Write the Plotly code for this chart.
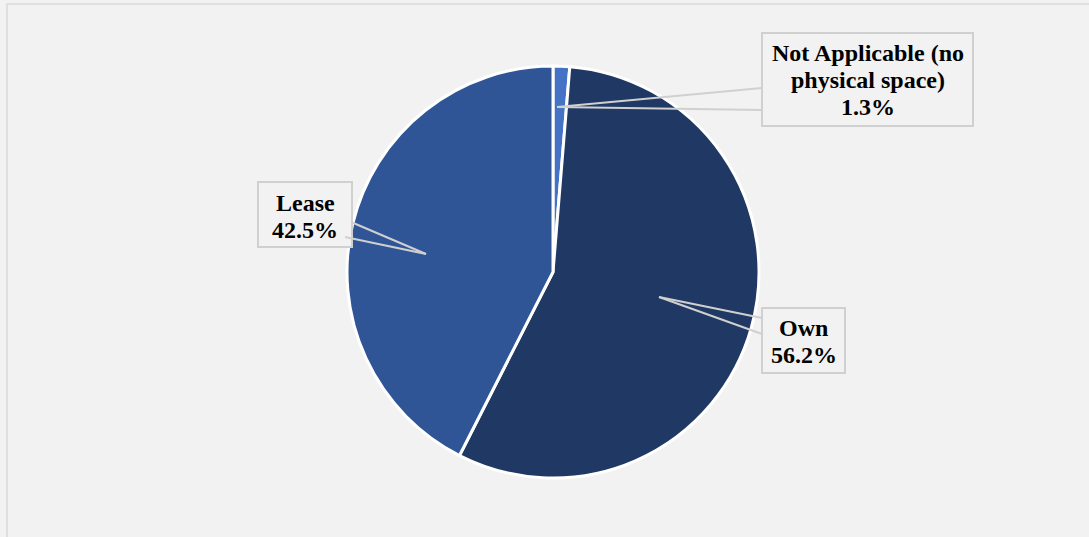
import plotly.graph_objects as go

label_lines = [["Not Applicable (no", "physical space)"], ["Own"], ["Lease"]]
values = [1.3, 56.2, 42.5]
colors = ["#4472C4", "#1F3864", "#2F5597"]
labels = [" ".join(l) for l in label_lines]

W, H = 1089, 537

def px(x, y):
    return x / W, 1 - y / H

cx, cy, r = 553, 272, 206
x0, y1 = px(cx - r, cy - r)
x1, y0 = px(cx + r, cy + r)

fig = go.Figure(go.Pie(
    labels=labels, values=values, sort=False, direction="clockwise", rotation=0,
    marker=dict(colors=colors, line=dict(color="white", width=3)),
    textinfo="none", hoverinfo="label+percent", showlegend=False,
    domain=dict(x=[x0, x1], y=[y0, y1]),
))

font = dict(family="Liberation Serif, Times New Roman, serif", size=24, color="black")

# label boxes in pixels: (left, top, right, bottom), text centre x, first line centre y
boxes = [((762, 33, 973, 126), 867.5, 53), ((762, 308, 845, 373), 803.5, 328), ((258, 182, 352, 247), 305, 203)]
LINE = 27
shapes = []
for lines_, val, ((l, t, rr, b), tx, ty) in zip(label_lines, values, boxes):
    xa, ya = px(l, t)
    xb, yb = px(rr, b)
    shapes.append(dict(type="rect", xref="paper", yref="paper", x0=xa, y0=yb, x1=xb, y1=ya,
                       fillcolor="#F2F2F2", line=dict(color="#D0D0D0", width=2), layer="above"))
    for i, txt in enumerate(lines_ + [f"{val:.1f}%"]):
        ax, ay = px(tx, ty + i * LINE)
        fig.add_annotation(x=ax, y=ay, xref="paper", yref="paper", showarrow=False,
                           text=f"<b>{txt}</b>", font=font, xanchor="center", yanchor="middle")

# leader lines (pixel positions)
leaders = [
    [(557, 107), (762, 88)], [(557, 107), (762, 110)],
    [(659, 297), (762, 318)], [(659, 297), (762, 334)],
    [(426, 254), (351, 222)], [(426, 254), (345, 237)],
]
for (a, b) in leaders:
    xa, ya = px(*a)
    xb, yb = px(*b)
    shapes.append(dict(type="line", xref="paper", yref="paper", x0=xa, y0=ya, x1=xb, y1=yb,
                       line=dict(color="#D0D0D0", width=2), layer="above"))
# outer border
bx0, by1 = px(7, 4)
shapes.append(dict(type="rect", xref="paper", yref="paper", x0=bx0, y0=-0.02, x1=1.02, y1=by1,
                   line=dict(color="#D9D9D9", width=1.5), layer="below"))

fig.update_layout(
    width=W, height=H, margin=dict(l=0, r=0, t=0, b=0),
    paper_bgcolor="#F2F2F2", plot_bgcolor="#F2F2F2",
    shapes=shapes,
)
fig.write_html("out.html", config={"displayModeBar": False},
               post_script="document.body.style.margin='0';document.body.style.background='#F2F2F2';document.body.style.overflow='hidden';")
